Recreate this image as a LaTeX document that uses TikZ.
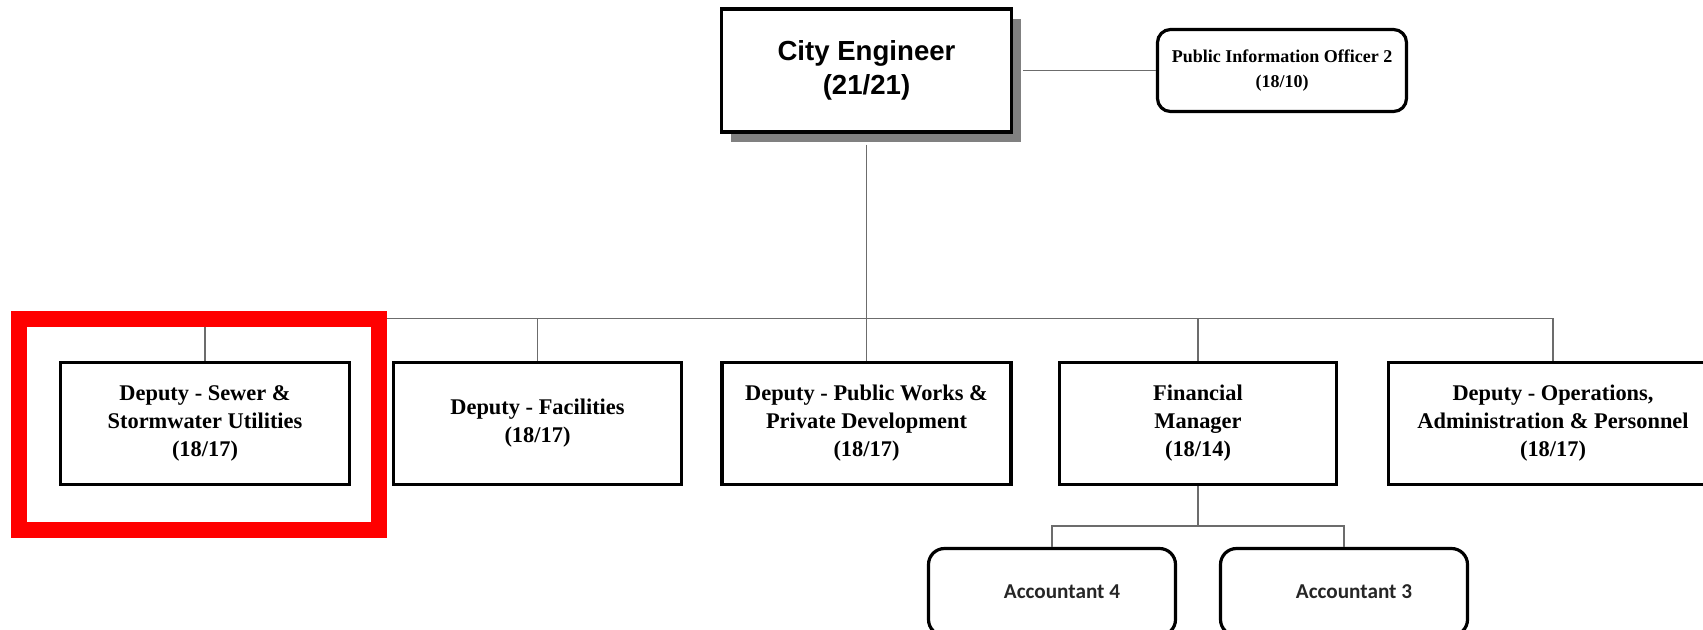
\documentclass[tikz,border=0pt]{standalone}
\usepackage{fontspec}
\setmainfont{Liberation Serif}
\newfontfamily\HeadFont{Liberation Sans}
\newfontfamily\StaffFont{Carlito}
\usetikzlibrary{shadows}

\begin{document}
\begin{tikzpicture}[x=0.5pt, y=-0.5pt,
    unit/.style={draw, line width=1.6pt, align=center, inner sep=0pt, minimum height=61pt,
        font=\bfseries\fontsize{11.2}{14}\selectfont},
    chief/.style={draw, line width=1.6pt, align=center, inner sep=0pt, minimum width=145pt, minimum height=61.5pt,
        fill=white, font=\HeadFont\bfseries\fontsize{13.8}{17}\selectfont,
        drop shadow={shadow xshift=4.5pt, shadow yshift=-5pt, fill=gray, opacity=1}},
    aide/.style={draw, line width=1.6pt, rounded corners=6.5pt, align=center, inner sep=0pt,
        minimum width=124.5pt, minimum height=41pt, font=\bfseries\fontsize{9}{12.8}\selectfont},
    staff/.style={draw, line width=1.6pt, rounded corners=8pt, inner sep=0pt, minimum width=123.5pt,
        minimum height=43.5pt, text=black!85, font=\StaffFont\bfseries\fontsize{10.6}{13}\selectfont},
    link/.style={draw=gray!85!black, line width=0.7pt}]
    \useasboundingbox (0,0) rectangle (1703,629);

    \node[chief] (CE) at (866.5,70.5) {City Engineer\\(21/21)};
    \node[aide] (PIO) at (1282,70.5) {Public Information Officer 2\\(18/10)};

    \node[unit, minimum width=144.5pt] (SW) at (205,423.5) {Deputy - Sewer \&\\Stormwater Utilities\\(18/17)};
    \node[unit, minimum width=144pt] (FAC) at (537.5,423.5) {Deputy - Facilities\\(18/17)};
    \node[unit, minimum width=144.5pt] (PW) at (866.5,423.5) {Deputy - Public Works \&\\Private Development\\(18/17)};
    \node[unit, minimum width=138.5pt] (FIN) at (1198,423.5) {Financial\\Manager\\(18/14)};
    \node[unit, minimum width=164.5pt] (OPS) at (1553,423.5) {Deputy - Operations,\\Administration \& Personnel\\(18/17)};

    \node[staff] (A4) at (1052,592) {\hspace*{10pt}Accountant 4};
    \node[staff] (A3) at (1344,592) {\hspace*{10pt}Accountant 3};

    \coordinate (bus) at (866.5,318.5);
    \coordinate (finbus) at (1198,526);

    \draw[link, shorten <=5pt] (CE.east) -- (PIO.west);
    \draw[link, shorten <=5.5pt] (CE.south) -- (PW.north);
    \draw[link] (SW.north) |- (bus);
    \draw[link] (FAC.north) |- (bus);
    \draw[link] (FIN.north) |- (bus);
    \draw[link] (OPS.north) |- (bus);
    \draw[link] (FIN.south) -- (finbus);
    \draw[link] (A4.north) |- (finbus);
    \draw[link] (A3.north) |- (finbus);

    \draw[red, line width=8pt] (19,319) rectangle (379,530);
\end{tikzpicture}
\end{document}
